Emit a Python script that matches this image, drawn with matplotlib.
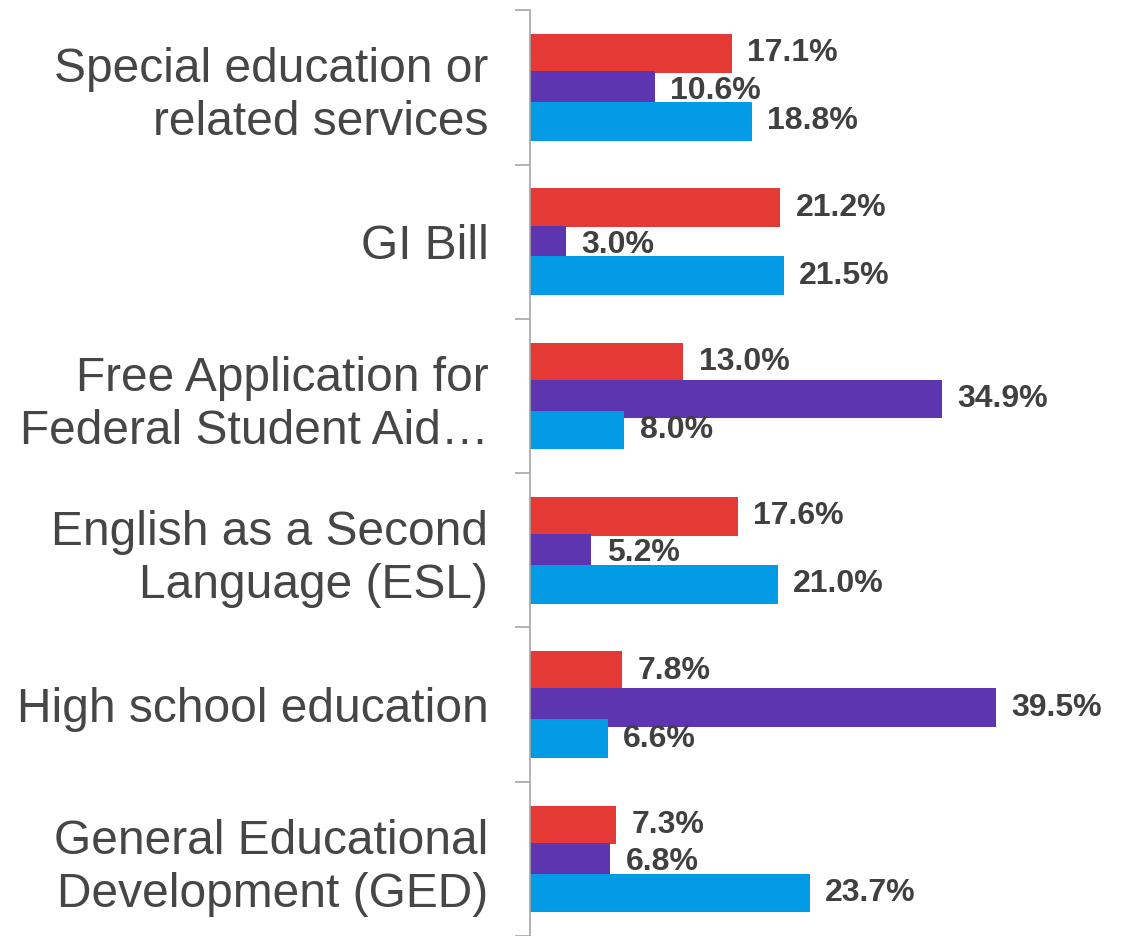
import matplotlib.pyplot as plt
import numpy as np

categories = [
    "Special education or\nrelated services",
    "GI Bill",
    "Free Application for\nFederal Student Aid\u2026",
    "English as a Second\nLanguage (ESL)",
    "High school education",
    "General Educational\nDevelopment (GED)",
]
red_vals = [17.1, 21.2, 13.0, 17.6, 7.8, 7.3]
purple_vals = [10.6, 3.0, 34.9, 5.2, 39.5, 6.8]
blue_vals = [18.8, 21.5, 8.0, 21.0, 6.6, 23.7]

colors = ["#E53935", "#5E35B1", "#039BE5"]
offsets = [-0.22, 0.02, 0.22]
bar_h = 0.25

plt.rcParams['font.family'] = ['Liberation Sans', 'DejaVu Sans']

fig = plt.figure(figsize=(11.28, 9.36), dpi=100)
ax = fig.add_axes([0.47, 0.0, 0.53, 0.989])

y = np.arange(len(categories))
for vals, col, off in zip([red_vals, purple_vals, blue_vals], colors, offsets):
    bars = ax.barh(y + off, vals, height=bar_h, color=col)
    for b, v in zip(bars, vals):
        ax.annotate(f"{v:.1f}%", (b.get_width(), b.get_y() + b.get_height() / 2),
                    xytext=(11, 0), textcoords="offset points",
                    va="center", ha="left", fontsize=23, fontweight="bold",
                    color="#404040")

ax.set_ylim(len(categories) - 0.5, -0.5)
ax.set_xlim(0, 50.7)

ax.set_yticks(y)
ax.set_yticklabels(categories, fontsize=34.5, color="#464646", linespacing=1.22)
ax.tick_params(axis="y", which="major", length=0, pad=30)
ax.set_yticks(np.arange(-0.5, len(categories) + 0.5, 1), minor=True)
ax.tick_params(axis="y", which="minor", length=11, color="#a6a6a6", width=1.2)

ax.set_xticks([])
for s in ["top", "right", "bottom"]:
    ax.spines[s].set_visible(False)
ax.spines["left"].set_color("#a6a6a6")
ax.spines["left"].set_linewidth(1.2)

fig.savefig("out.png", dpi=100)
